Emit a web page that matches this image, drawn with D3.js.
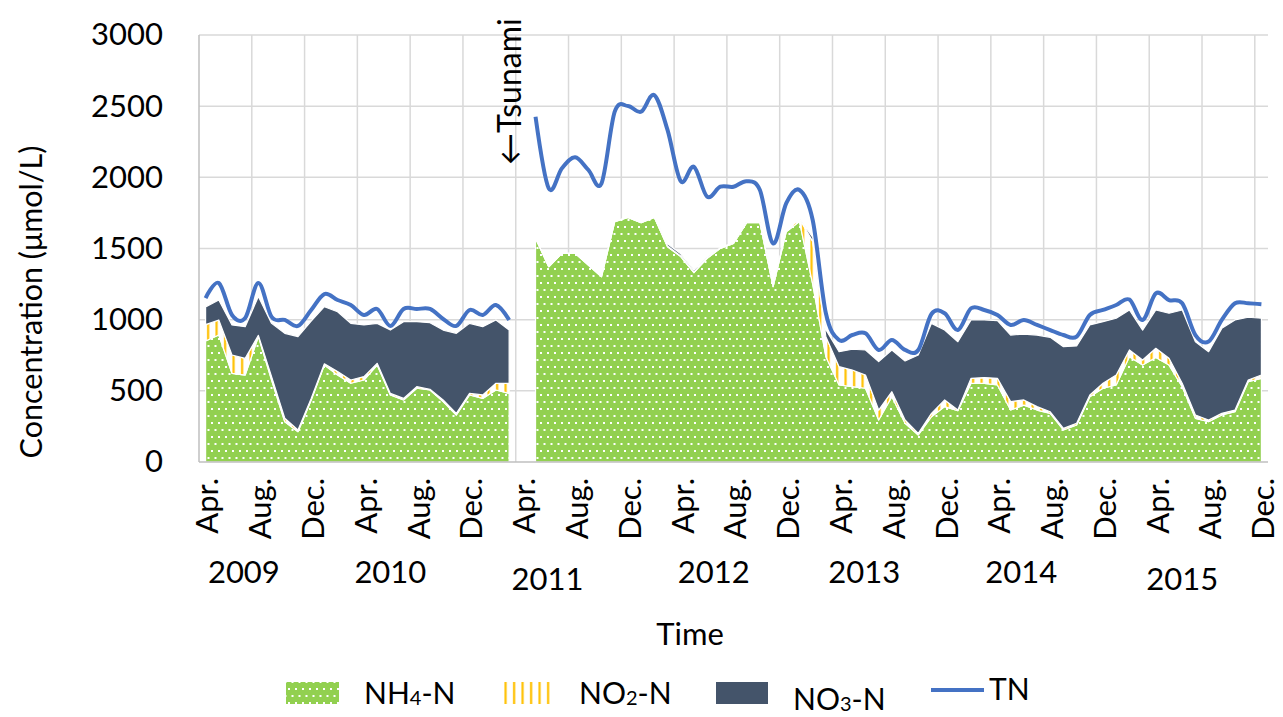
<!DOCTYPE html>
<html>
<head>
<meta charset="utf-8">
<script src="https://cdn.jsdelivr.net/npm/d3@7/dist/d3.min.js"></script>
<style>
  body { margin: 0; background: #fff; }
  text { font-family: Lato, "Open Sans", sans-serif; fill: #000; }
</style>
</head>
<body>
<div id="chart"></div>
<script>
// monthly samples Apr 2009 - Dec 2015 (Apr 2011 missing, tsunami)
var months = [
  "Apr 2009","May 2009","Jun 2009","Jul 2009","Aug 2009","Sep 2009","Oct 2009","Nov 2009","Dec 2009",
  "Jan 2010","Feb 2010","Mar 2010","Apr 2010","May 2010","Jun 2010","Jul 2010","Aug 2010","Sep 2010","Oct 2010","Nov 2010","Dec 2010",
  "Jan 2011","Feb 2011","Mar 2011","Apr 2011","May 2011","Jun 2011","Jul 2011","Aug 2011","Sep 2011","Oct 2011","Nov 2011","Dec 2011",
  "Jan 2012","Feb 2012","Mar 2012","Apr 2012","May 2012","Jun 2012","Jul 2012","Aug 2012","Sep 2012","Oct 2012","Nov 2012","Dec 2012",
  "Jan 2013","Feb 2013","Mar 2013","Apr 2013","May 2013","Jun 2013","Jul 2013","Aug 2013","Sep 2013","Oct 2013","Nov 2013","Dec 2013",
  "Jan 2014","Feb 2014","Mar 2014","Apr 2014","May 2014","Jun 2014","Jul 2014","Aug 2014","Sep 2014","Oct 2014","Nov 2014","Dec 2014",
  "Jan 2015","Feb 2015","Mar 2015","Apr 2015","May 2015","Jun 2015","Jul 2015","Aug 2015","Sep 2015","Oct 2015","Nov 2015","Dec 2015"
];

var nh4 = [850, 892, 623, 611, 881, 576, 283, 213, 436, 681, 611, 553, 576, 681, 471, 436, 518, 506, 424, 330, 471, 447, 506, 482,
  null,
  1572, 1372, 1466, 1466, 1384, 1302, 1689, 1719, 1681, 1719, 1513, 1443, 1330, 1431, 1501, 1536, 1681, 1681, 1232, 1618, 1689, 1250, 740,
  541, 529, 518, 295, 459, 272, 190, 318, 389, 360, 553, 553, 541, 365, 400, 365, 342, 225, 260, 459, 518, 541, 740, 681, 734, 681, 529, 307, 283, 330, 353, 564, 588];

var no2 = [115, 106, 129, 117, 9, 24, 24, 12, 11, 9, 24, 23, 24, 12, 11, 11, 11, 5, 12, 12, 11, 24, 47, 71,
  null,
  0, 0, 0, 0, 0, 0, 0, 0, 0, 0, 5, 5, 5, 0, 0, 0, 5, 5, 0, 10, 20, 300, 140,
  129, 117, 93, 70, 35, 23, 11, 24, 47, 5, 35, 40, 47, 59, 36, 24, 11, 11, 12, 12, 35, 70, 47, 36, 65, 48, 24, 23, 12, 12, 12, 12, 23];

var no3 = [125, 140, 211, 223, 272, 374, 597, 656, 543, 401, 421, 398, 363, 281, 445, 539, 457, 468, 491, 562, 492, 480, 445, 374,
  null,
  0, 0, 0, 0, 0, 0, 0, 0, 0, 0, 15, 15, 15, 5, 5, 5, 5, 5, 5, 0, 0, 30, 50,
  105, 146, 176, 340, 293, 415, 551, 632, 491, 480, 410, 405, 405, 468, 463, 503, 523, 574, 543, 492, 433, 399, 281, 210, 269, 316, 515, 515, 480, 597, 633, 441, 399];

var tn = [1152, 1258, 1033, 1012, 1258, 1019, 998, 956, 1068, 1180, 1138, 1103, 1033, 1075, 956, 1075, 1075, 1075, 1005, 956, 1068, 1033, 1103, 998,
  null,
  2426, 1923, 2064, 2141, 2052, 1958, 2461, 2501, 2461, 2578, 2333, 1973, 2075, 1864, 1934, 1934, 1973, 1911, 1536, 1818, 1911, 1700, 1045,
  857, 892, 904, 787, 857, 787, 787, 1040, 1045, 927, 1080, 1068, 1033, 963, 998, 963, 927, 892, 881, 1033, 1068, 1103, 1141, 998, 1185, 1138, 1115, 892, 846, 998, 1115, 1115, 1108];

var tickLabels = ["Apr.", "Aug.", "Dec."];
var yTicks = [0, 500, 1000, 1500, 2000, 2500, 3000];
var years = ["2009", "2010", "2011", "2012", "2013", "2014", "2015"];

// chart frame
var W = 1283, H = 717;
var plot = {left: 199, right: 1268, top: 35, bottom: 462};

var svg = d3.select("#chart")
  .append("svg")
  .attr("width", W)
  .attr("height", H);

var rows = months.map(function(m, i) {
  return {i: i, month: m, nh4: nh4[i], no2: no2[i], no3: no3[i], tn: tn[i]};
});

var x = d3.scaleLinear()
  .domain([-0.5, months.length - 0.5])
  .range([plot.left, plot.right]);

var y = d3.scaleLinear()
  .domain([0, 3000])
  .range([plot.bottom, plot.top]);

// fill patterns
var defs = svg.append("defs");
var dots = defs.append("pattern")
  .attr("id", "dots")
  .attr("patternUnits", "userSpaceOnUse")
  .attr("width", 7).attr("height", 14);
dots.append("rect").attr("width", 7).attr("height", 14).attr("fill", "#92D050");
dots.append("rect").attr("x", 1).attr("y", 2).attr("width", 2).attr("height", 2).attr("fill", "#fff");
dots.append("rect").attr("x", 4.5).attr("y", 9).attr("width", 2).attr("height", 2).attr("fill", "#fff");

var stripes = defs.append("pattern")
  .attr("id", "stripes")
  .attr("patternUnits", "userSpaceOnUse")
  .attr("width", 8.5).attr("height", 8);
stripes.append("rect").attr("width", 8.5).attr("height", 8).attr("fill", "#fff");
stripes.append("rect").attr("x", 3).attr("width", 2.2).attr("height", 8).attr("fill", "#FFC000");

defs.append("clipPath").attr("id", "clip")
  .append("rect")
  .attr("x", plot.left).attr("y", plot.top - 5)
  .attr("width", plot.right - plot.left).attr("height", plot.bottom - plot.top + 5);

// grid
var grid = svg.append("g");
grid.selectAll(".hgrid")
  .data(yTicks.slice(1))
  .enter().append("line")
  .attr("x1", plot.left).attr("x2", plot.right)
  .attr("y1", function(d) { return y(d); })
  .attr("y2", function(d) { return y(d); })
  .attr("stroke", "#D9D9D9").attr("stroke-width", 1.5);

var boundaries = d3.range(4, months.length, 4);
grid.selectAll(".vgrid")
  .data(boundaries)
  .enter().append("line")
  .attr("x1", function(d) { return x(d - 0.5); })
  .attr("x2", function(d) { return x(d - 0.5); })
  .attr("y1", plot.top).attr("y2", plot.bottom)
  .attr("stroke", "#D9D9D9").attr("stroke-width", 1.5);

// stacked areas
var stack = d3.stack()
  .keys(["nh4", "no2", "no3"])
  .value(function(d, k) { return d[k] == null ? 0 : d[k]; });
var series = stack(rows);
var fills = {nh4: "url(#dots)", no2: "url(#stripes)", no3: "#44546A"};

var area = d3.area()
  .defined(function(d) { return d.data.nh4 != null; })
  .x(function(d) { return x(d.data.i); })
  .y0(function(d) { return y(d[0]); })
  .y1(function(d) { return y(d[1]); });

svg.append("g")
  .attr("clip-path", "url(#clip)")
  .selectAll("path")
  .data(series)
  .enter().append("path")
  .attr("d", area)
  .attr("fill", function(s) { return fills[s.key]; })
  .attr("stroke", "#fff")
  .attr("stroke-width", 1.2)
  .attr("stroke-linejoin", "round");

// TN line
svg.append("path")
  .datum(rows)
  .attr("fill", "none")
  .attr("stroke", "#4472C4")
  .attr("stroke-width", 4)
  .attr("stroke-linejoin", "round")
  .attr("d", d3.line()
    .defined(function(d) { return d.tn != null; })
    .x(function(d) { return x(d.i); })
    .y(function(d) { return y(d.tn); })
    .curve(d3.curveCatmullRom.alpha(0)));

// axis lines
svg.append("line")
  .attr("x1", plot.left).attr("x2", plot.right)
  .attr("y1", plot.bottom).attr("y2", plot.bottom)
  .attr("stroke", "#BFBFBF").attr("stroke-width", 1.5);
svg.append("line")
  .attr("x1", plot.left).attr("x2", plot.left)
  .attr("y1", plot.top).attr("y2", plot.bottom)
  .attr("stroke", "#BFBFBF").attr("stroke-width", 1.5);

// y axis labels
var yAxis = svg.append("g")
  .attr("transform", "translate(" + (plot.left - 36) + ",0)")
  .call(d3.axisLeft(y).tickValues(yTicks).tickFormat(d3.format("d")).tickSize(0).tickPadding(0));
yAxis.select(".domain").remove();
yAxis.selectAll("text")
  .style("font-family", "Lato")
  .style("font-size", "31px")
  .attr("fill", "#000");

// x labels, every 4th month
var labelIdx = d3.range(0, months.length, 4);
svg.append("g").selectAll("text")
  .data(labelIdx)
  .enter().append("text")
  .attr("transform", function(d) { return "translate(" + (x(d) + 2) + ",478) rotate(-90)"; })
  .attr("text-anchor", "end")
  .attr("dy", "0.35em")
  .style("font-size", "31px")
  .text(function(d, j) { return tickLabels[j % 3]; });

// year labels
var yearAt = [2.9, 14, 25.9, 38.5, 49.9, 61.8, 74];
var yearDrop = [0, 0, 7, 0, 0, 0, 7];
svg.append("g").selectAll("text")
  .data(years)
  .enter().append("text")
  .attr("x", function(d, j) { return x(yearAt[j]); })
  .attr("y", function(d, j) { return 583 + yearDrop[j]; })
  .attr("text-anchor", "middle")
  .style("font-size", "31px")
  .text(function(d) { return d; });

// axis titles
svg.append("text")
  .attr("x", 690).attr("y", 645)
  .attr("text-anchor", "middle")
  .style("font-size", "31px")
  .text("Time");

svg.append("text")
  .attr("transform", "translate(42,302) rotate(-90)")
  .attr("text-anchor", "middle")
  .style("font-size", "30.5px")
  .text("Concentration (\u03bcmol/L)");

// tsunami marker
svg.append("text")
  .attr("transform", "translate(521,165) rotate(-90)")
  .attr("text-anchor", "start")
  .style("font-size", "32px")
  .text("\u2190Tsunami");

// legend
var legend = svg.append("g");
legend.append("rect").attr("x", 286).attr("y", 682).attr("width", 53).attr("height", 22).attr("fill", "url(#dots)");
legend.append("rect").attr("x", 500).attr("y", 682).attr("width", 53).attr("height", 22).attr("fill", "url(#stripes)");
legend.append("rect").attr("x", 716).attr("y", 682).attr("width", 52).attr("height", 22).attr("fill", "#44546A");
legend.append("line").attr("x1", 931).attr("x2", 984).attr("y1", 690).attr("y2", 690)
  .attr("stroke", "#4472C4").attr("stroke-width", 4);

function subLabel(lx, ly, a, sub, b) {
  var t = legend.append("text").attr("x", lx).attr("y", ly).style("font-size", "30px");
  t.append("tspan").text(a);
  t.append("tspan").style("font-size", "20px").attr("dy", 1).text(sub);
  t.append("tspan").attr("dy", -1).text(b);
}
subLabel(364, 704, "NH", "4", "-N");
subLabel(579, 704, "NO", "2", "-N");
subLabel(793, 710, "NO", "3", "-N");
legend.append("text").attr("x", 989).attr("y", 700).style("font-size", "30px").text("TN");
</script>
</body>
</html>
